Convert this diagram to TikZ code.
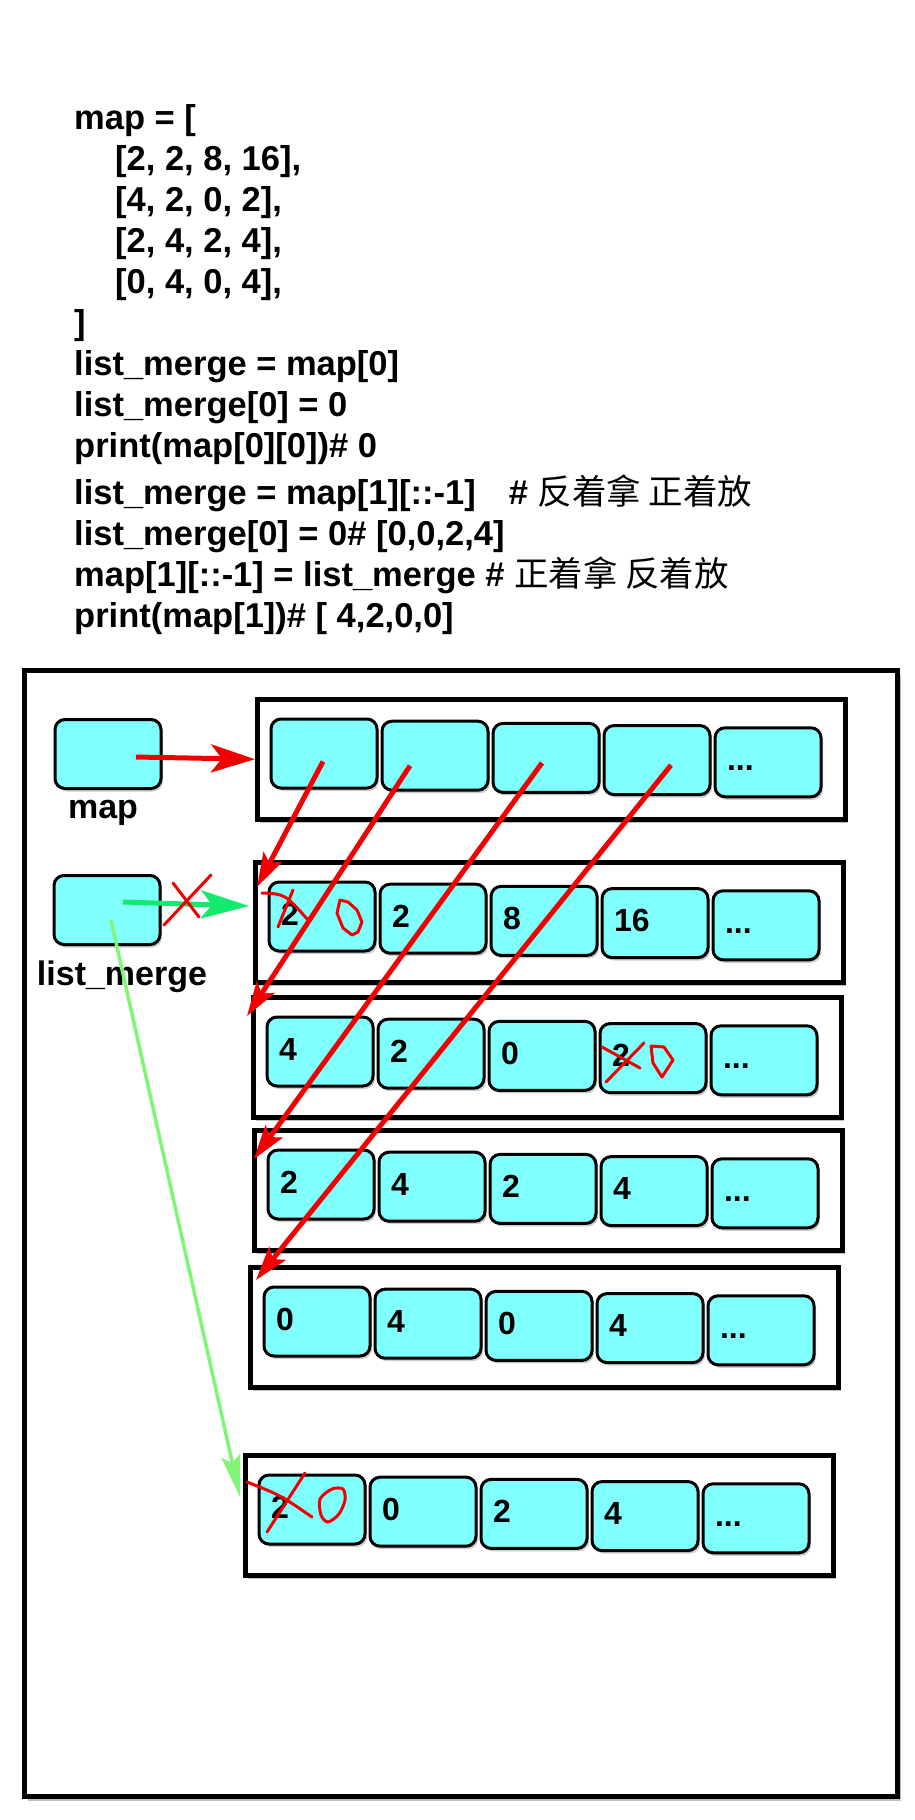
\documentclass[tikz,border=0pt]{standalone}
\usepackage{fontspec}
\setmainfont{Liberation Sans}
\newfontfamily\cjk{Noto Sans CJK SC}
\usetikzlibrary{arrows.meta, calc, shadows}
\definecolor{cellcyan}{RGB}{128,255,255}
\definecolor{penred}{RGB}{240,0,0}
\definecolor{ptrgreen}{RGB}{20,235,110}
\definecolor{lightgreen}{RGB}{130,245,120}
\newcommand{\celldots}{...}

\tikzset{
  boxshadow/.style={drop shadow={shadow xshift=3pt, shadow yshift=-4pt, opacity=0.25, fill=black}},
  cellbox/.style={draw=black, line width=3pt, fill=cellcyan, rounded corners=10pt,
    minimum width=106pt, minimum height=69pt, text width=82pt, inner xsep=12pt, inner ysep=0pt,
    align=left, text height=17pt, text depth=0pt, font=\fontsize{32}{36}\selectfont\bfseries,
    drop shadow={shadow xshift=2pt, shadow yshift=-3pt, opacity=0.2, fill=black}},
  rowbox/.style={draw=black, line width=4.5pt, fill=white, anchor=north west, inner sep=0pt,
    minimum width=588pt, minimum height=120pt, boxshadow},
  codeline/.style={anchor=base west, inner sep=0pt, font=\fontsize{34.5}{41}\selectfont\bfseries},
  labeltext/.style={inner sep=0pt, font=\fontsize{34}{41}\selectfont\bfseries},
  bigred/.style={draw=penred, line width=5pt, -{Stealth[length=44pt, width=28pt, inset=11pt]}},
  redptr/.style={draw=penred, line width=5pt, -{Stealth[length=34pt, width=21pt, inset=7pt]}},
  greenptr/.style={draw=ptrgreen, line width=5pt, -{Stealth[length=48pt, width=28pt, inset=11pt]}},
  lightptr/.style={draw=lightgreen, line width=3.5pt, -{Stealth[length=42pt, width=19pt, inset=7pt]}},
  pen/.style={draw=penred, line width=3pt, line cap=round, line join=round}
}

\begin{document}
\begin{tikzpicture}[x=1pt, y=-1pt]
  \useasboundingbox (0,0) rectangle (915,1820);

  % code listing
  \node[codeline] (c1) at (74,129) {map = [};
  \node[codeline] (c2) at (115,170) {[2, 2, 8, 16],};
  \node[codeline] (c3) at (115,211) {[4, 2, 0, 2],};
  \node[codeline] (c4) at (115,252) {[2, 4, 2, 4],};
  \node[codeline] (c5) at (115,293) {[0, 4, 0, 4],};
  \node[codeline] (c6) at (74,334) {]};
  \node[codeline] (c7) at (74,375) {list\_merge = map[0]};
  \node[codeline] (c8) at (74,416) {list\_merge[0] = 0};
  \node[codeline] (c9) at (74,457) {print(map[0][0])\# 0};
  \node[codeline] (c10) at (74,504) {list\_merge = map[1][::-1]\hspace{33pt}\# {\cjk\mdseries 反着拿 正着放}};
  \node[codeline] (c11) at (74,545) {list\_merge[0] = 0\# [0,0,2,4]};
  \node[codeline] (c12) at (74,586) {map[1][::-1] = list\_merge \# {\cjk\mdseries 正着拿 反着放}};
  \node[codeline] (c13) at (74,627) {print(map[1])\# [ 4,2,0,0]};

  % frame
  \node[draw=black, line width=5pt, fill=white, anchor=north west, inner sep=0pt,
    minimum width=873pt, minimum height=1126pt, boxshadow] (frame) at (22,668) {};

  % variables
  \node[cellbox] (map) at (108,754) {};
  \node[labeltext] (maplabel) at (103,813) {map};
  \node[cellbox] (lm) at (107,910) {};
  \node[labeltext] (lmlabel) at (122,977) {list\_merge};

  % rows of cells
  \foreach \r/\x/\y/\vals in {0/255/697/{{},{},{},{},\celldots}, 1/253/860/{2,2,8,16,\celldots},
      2/251/995/{4,2,0,2,\celldots}, 3/252/1128/{2,4,2,4,\celldots}, 4/248/1265/{0,4,0,4,\celldots},
      5/243/1453/{2,0,2,4,\celldots}} {
    \node[rowbox] (row\r) at (\x,\y) {};
    \foreach \v [count=\i] in \vals
      \node[cellbox] (r\r-\i) at ({\x+69+(\i-1)*111},{\y+56.5+(\i-1)*2.2}) {\v};
  }

  % pointers
  \draw[bigred] ($(map.center)+(28,3)$) -- (row0.west);
  \draw[redptr] ($(r0-1.center)+(-1,8)$) -- ($(row1.north west)+(4,27)$);
  \draw[redptr] ($(r0-2.center)+(-25,10)$) -- ($(row2.north west)+(-4,21)$);
  \draw[redptr] ($(r0-3.center)+(-4,5)$) -- ($(row3.north west)+(2,31)$);
  \draw[redptr] ($(r0-4.center)+(14,5)$) -- ($(row4.north west)+(8,15)$);
  \draw[greenptr] ($(lm.center)+(16,-8)$) -- ($(row1.north west)+(-4,46)$);
  \draw[lightptr] ($(lm.center)+(4,10)$) -- ($(row5.north west)+(-3,44)$);

  % pen marks
  \draw[pen] (211,875) -- (164,925);
  \draw[pen] (173,883) -- (199,917);
  \draw[pen] (262,893) .. controls (285,894) .. (308,920);
  \draw[pen] (293,890) -- (278,927);
  \draw[pen] (340,900) -- (348,902) -- (357,910) -- (362,922) -- (358,932) -- (352,935)
    -- (343,928) -- (337,913) -- cycle;
  \draw[pen] (602,1047) -- (640,1068);
  \draw[pen] (644,1043) -- (606,1082);
  \draw[pen] (651,1046) -- (664,1047) -- (673,1060) -- (662,1077) -- (653,1063) -- cycle;
  \draw[pen] (247,1482) .. controls (280,1495) .. (312,1517);
  \draw[pen] (305,1473) -- (267,1532);
  \draw[pen] plot[smooth cycle] coordinates {(320,1499) (332,1489) (343,1489) (345,1500)
    (339,1514) (328,1522) (321,1515)};
\end{tikzpicture}
\end{document}
